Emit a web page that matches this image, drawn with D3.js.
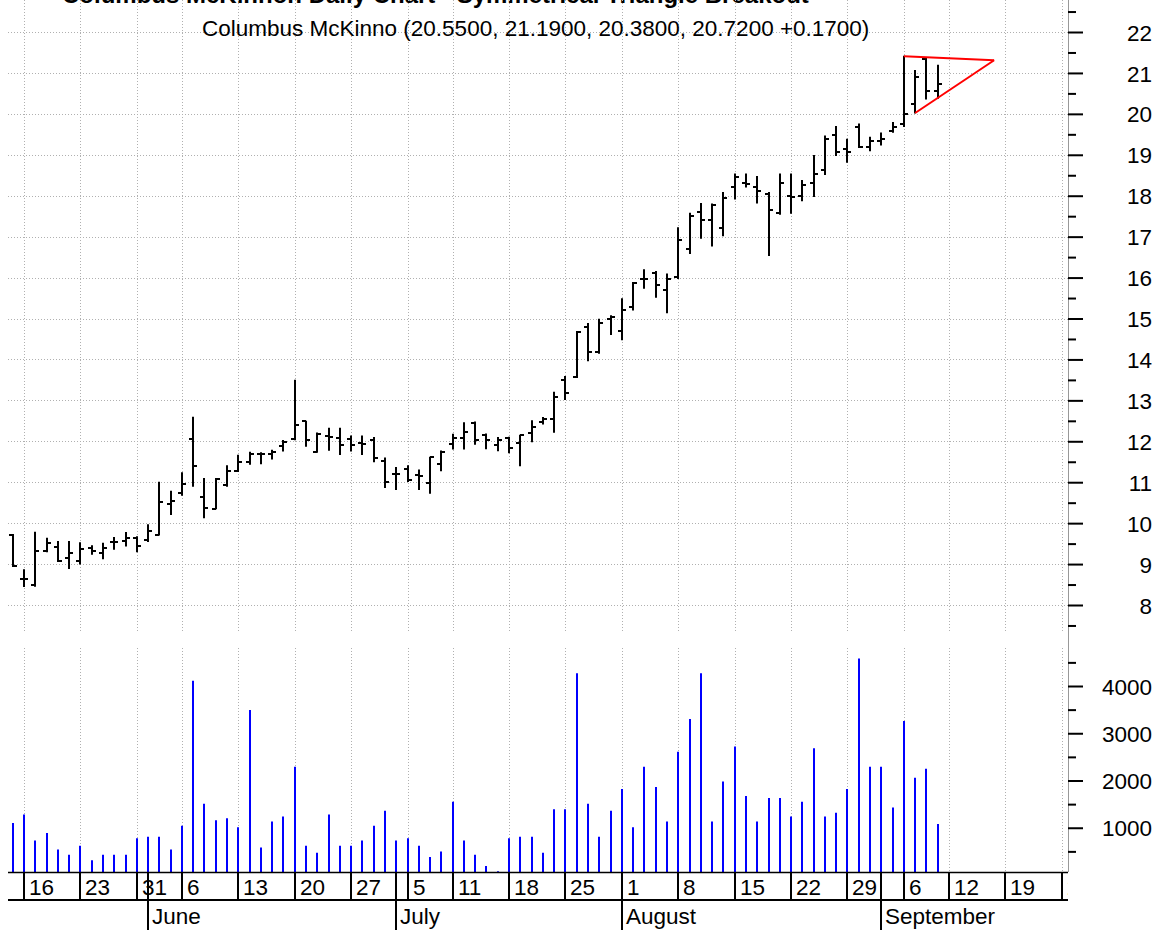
<!DOCTYPE html>
<html>
<head>
<meta charset="utf-8">
<script src="https://cdn.jsdelivr.net/npm/d3@7"></script>
<style>
  body { margin: 0; background: #fff; }
  svg { display: block; font-family: "Liberation Sans", Arial, sans-serif; }
</style>
</head>
<body>
<svg id="chart" width="1166" height="930"></svg>
<script>
// calendar: trading days (weekends and market holidays skipped)
const firstDay = '2005-05-13';
const lastDay = '2005-09-30';
const holidays = ['2005-05-30', '2005-07-04', '2005-09-05'];

const quoteName = 'Columbus McKinno';
const headline = 'Columbus McKinnon Daily Chart - Symmetrical Triangle Breakout';

// one value per trading day, starting May 13 (rows = weeks)
const opens = [9.70,
  8.63, 8.48, 9.32, 9.41, 9.14,
  9.08, 9.39, 9.26, 9.53, 9.57,
  9.63, 9.58, 9.71, 10.47,
  10.73, 12.05, 10.65, 10.35, 10.93,
  11.28, 11.49, 11.68, 11.70, 11.89,
  12.06, 12.49, 11.75, 12.14, 12.09,
  12.05, 11.96, 12.03, 11.52, 11.21,
  11.33, 11.18, 10.98, 11.45,
  11.93, 12.07, 12.44, 12.15, 11.92,
  12.09, 11.95, 12.20, 12.46, 12.54,
  13.49, 13.56, 14.80, 14.17, 14.98,
  14.70, 15.29, 15.96, 16.10, 15.70,
  16.02, 16.69, 17.59, 17.41, 17.21,
  18.21, 18.30, 18.21, 18.03, 17.57,
  18.00, 18.00, 18.30, 18.63, 19.48,
  19.14, 19.69, 19.18, 19.33, 19.57,
  19.75, 20.24, 21.33, 20.55];

const highs = [9.72,
  8.86, 9.78, 9.63, 9.55, 9.55,
  9.52, 9.45, 9.51, 9.65, 9.77,
  9.67, 9.96, 11.00, 10.78,
  11.23, 12.59, 11.09, 11.09, 11.40,
  11.66, 11.73, 11.72, 11.78, 12.02,
  13.49, 12.49, 12.20, 12.32, 12.32,
  12.13, 12.13, 12.09, 11.59, 11.36,
  11.40, 11.30, 11.61, 11.76,
  12.17, 12.45, 12.47, 12.18, 12.09,
  12.10, 12.15, 12.50, 12.58, 13.20,
  13.58, 14.68, 14.88, 14.98, 15.07,
  15.48, 15.88, 16.19, 16.15, 16.09,
  17.22, 17.57, 17.81, 17.80, 18.08,
  18.53, 18.53, 18.47, 18.08, 18.53,
  18.53, 18.37, 18.98, 19.46, 19.69,
  19.38, 19.75, 19.43, 19.53, 19.79,
  21.41, 21.06, 21.38, 21.19];

const lows = [8.94,
  8.45, 8.46, 9.30, 9.06, 8.89,
  9.00, 9.24, 9.13, 9.36, 9.44,
  9.30, 9.55, 9.71, 10.21,
  10.68, 10.90, 10.13, 10.35, 10.90,
  11.26, 11.44, 11.45, 11.57, 11.76,
  12.04, 11.88, 11.73, 11.78, 11.68,
  11.76, 11.68, 11.50, 10.87, 10.82,
  11.02, 10.82, 10.73, 11.28,
  11.81, 11.81, 11.93, 11.82, 11.77,
  11.72, 11.40, 11.99, 12.42, 12.22,
  13.02, 13.56, 13.97, 14.15, 14.61,
  14.48, 15.21, 15.74, 15.52, 15.14,
  15.98, 16.59, 16.96, 16.77, 17.02,
  17.92, 18.21, 17.82, 16.54, 17.55,
  17.57, 17.88, 17.98, 18.52, 18.98,
  18.82, 19.18, 19.10, 19.24, 19.55,
  19.69, 20.02, 20.36, 20.38];

const closes = [8.96,
  8.63, 9.32, 9.52, 9.08, 9.28,
  9.37, 9.32, 9.40, 9.55, 9.63,
  9.45, 9.82, 10.51, 10.54,
  10.96, 11.40, 10.37, 11.07, 11.28,
  11.50, 11.70, 11.68, 11.73, 11.98,
  12.40, 12.03, 12.18, 12.11, 11.92,
  11.90, 11.94, 11.60, 11.00, 11.20,
  11.05, 11.14, 11.61, 11.73,
  12.07, 12.22, 12.02, 12.03, 12.04,
  11.83, 12.15, 12.36, 12.54, 13.08,
  13.19, 14.66, 14.17, 14.88, 15.03,
  15.21, 15.86, 15.97, 15.83, 15.97,
  16.92, 17.51, 17.41, 17.77, 17.95,
  18.45, 18.29, 18.11, 17.66, 18.30,
  17.98, 18.25, 18.53, 19.38, 19.08,
  19.07, 19.20, 19.33, 19.38, 19.67,
  20.00, 20.91, 20.55, 20.72];

const volumes = [1100,
  1280, 730, 890, 540, 430,
  620, 310, 430, 430, 430,
  780, 810, 810, 540,
  1040, 4110, 1510, 1160, 1200,
  1010, 3490, 580, 1130, 1240,
  2290, 620, 470, 1280, 620,
  620, 730, 1040, 1360, 730,
  780, 620, 380, 500,
  1550, 730, 430, 190, 80,
  780, 810, 810, 470, 1390,
  1390, 4270, 1510, 810, 1360,
  1820, 1010, 2290, 1860, 1130,
  2610, 3300, 4270, 1130, 1980,
  2720, 1670, 1130, 1630, 1630,
  1240, 1550, 2680, 1240, 1320,
  1820, 4580, 2290, 2290, 1430,
  3260, 2060, 2250, 1080];

const priceTicks = [8, 9, 10, 11, 12, 13, 14, 15, 16, 17, 18, 19, 20, 21, 22];
const volumeTicks = [1000, 2000, 3000, 4000];

// drawn triangle: [date, price]
const triangleUpper = [['2005-09-06', 21.41], ['2005-09-16', 21.31]];
const triangleLower = [['2005-09-07', 20.02], ['2005-09-16', 21.31]];

const svg = d3.select('#chart');
const plotLeft = 8;
const plotRight = 1068;
const priceTop = 0;
const priceBottom = 632;
const volTop = 648;
const volBottom = 872;
const dayRowBottom = 900;
const monthRowBottom = 930;
const fontSize = 22.5;

const parseDay = d3.timeParse('%Y-%m-%d');
const fmtDay = d3.timeFormat('%Y-%m-%d');
const days = d3.timeDay
  .range(parseDay(firstDay), d3.timeDay.offset(parseDay(lastDay), 1))
  .filter((d) => d.getDay() % 6 !== 0 && !holidays.includes(fmtDay(d)));
const dayIndex = new Map(days.map((d, i) => [fmtDay(d), i]));

const bars = opens.map((o, i) => ({
  i, open: o, high: highs[i], low: lows[i], close: closes[i], volume: volumes[i]
}));

const weekStarts = days
  .map((d, i) => ({ d, i }))
  .filter(({ d, i }) => i > 0 && d.getDay() < days[i - 1].getDay());
const monthStarts = days
  .map((d, i) => ({ d, i }))
  .filter(({ d, i }) => i > 0 && d.getMonth() !== days[i - 1].getMonth());

const x = d3.scaleLinear().domain([1, 93]).range([24, 1061.8]);
const y = d3.scaleLinear().domain([8, 22]).range([605, 32]);
const yVol = d3.scaleLinear().domain([0, 4000]).range([875, 686]);
const px = (i) => Math.round(x(i));

svg.append('rect').attr('width', 1166).attr('height', 930).attr('fill', '#fff');

svg.append('defs').append('clipPath').attr('id', 'plot-clip')
  .append('rect').attr('x', plotLeft).attr('y', 0)
  .attr('width', plotRight - plotLeft).attr('height', monthRowBottom);

// headline sits mostly above the top edge, as in the source
svg.append('text')
  .attr('x', 62).attr('y', 3)
  .attr('font-size', 24).attr('font-weight', 'bold')
  .text(headline);

// grid
const grid = svg.append('g')
  .attr('stroke', '#b0b0b0').attr('stroke-width', 1).attr('stroke-dasharray', '1,2');

grid.selectAll('line.h').data(priceTicks).join('line')
  .attr('class', 'h')
  .attr('x1', plotLeft).attr('x2', plotRight)
  .attr('y1', (d) => Math.round(y(d)) + 0.5).attr('y2', (d) => Math.round(y(d)) + 0.5);

grid.selectAll('line.vp').data(weekStarts).join('line')
  .attr('class', 'vp')
  .attr('x1', (d) => px(d.i) + 0.5).attr('x2', (d) => px(d.i) + 0.5)
  .attr('y1', priceTop).attr('y2', priceBottom);

grid.selectAll('line.vv').data(weekStarts).join('line')
  .attr('class', 'vv')
  .attr('x1', (d) => px(d.i) + 0.5).attr('x2', (d) => px(d.i) + 0.5)
  .attr('y1', volTop).attr('y2', volBottom);

// quote line
const last = bars[bars.length - 1];
const change = last.close - bars[bars.length - 2].close;
svg.append('text')
  .attr('x', 202).attr('y', 36)
  .attr('font-size', fontSize)
  .text(`${quoteName} (${last.open.toFixed(4)}, ${last.high.toFixed(4)}, ${last.low.toFixed(4)}, ${last.close.toFixed(4)} ${change >= 0 ? '+' : ''}${change.toFixed(4)})`);

// OHLC bars
const ohlc = svg.append('g').attr('stroke', '#000').attr('stroke-width', 2);
bars.forEach((b) => {
  const cx = px(b.i);
  ohlc.append('line')
    .attr('x1', cx).attr('x2', cx)
    .attr('y1', y(b.high) - 0.5).attr('y2', y(b.low) + 0.5);
  ohlc.append('line')
    .attr('x1', cx - 4).attr('x2', cx)
    .attr('y1', Math.round(y(b.open))).attr('y2', Math.round(y(b.open)));
  ohlc.append('line')
    .attr('x1', cx).attr('x2', cx + 4)
    .attr('y1', Math.round(y(b.close))).attr('y2', Math.round(y(b.close)));
});

// volume bars
svg.append('g').attr('stroke', '#0000ff').attr('stroke-width', 2)
  .selectAll('line').data(bars).join('line')
  .attr('x1', (d) => px(d.i)).attr('x2', (d) => px(d.i))
  .attr('y1', Math.min(yVol(0), volBottom)).attr('y2', (d) => yVol(d.volume));

// triangle
const triLine = d3.line()
  .x((d) => x(dayIndex.get(d[0])))
  .y((d) => y(d[1]));
[triangleUpper, triangleLower].forEach((seg) => {
  svg.append('path')
    .attr('d', triLine(seg))
    .attr('fill', 'none').attr('stroke', '#ff0000').attr('stroke-width', 2);
});

// right axes
svg.append('line')
  .attr('x1', plotRight + 0.5).attr('x2', plotRight + 0.5)
  .attr('y1', 0).attr('y2', volBottom)
  .attr('stroke', '#999').attr('stroke-width', 1);

function drawAxis(scale, majors, minors) {
  const gMinor = svg.append('g')
    .attr('transform', `translate(${plotRight},0)`)
    .call(d3.axisRight(scale).tickValues(minors).tickSize(8).tickSizeOuter(0).tickFormat(''));
  const gMajor = svg.append('g')
    .attr('transform', `translate(${plotRight},0)`)
    .call(d3.axisRight(scale).tickValues(majors).tickSize(15).tickSizeOuter(0).tickFormat(d3.format('d')));
  [gMinor, gMajor].forEach((g) => {
    g.select('.domain').remove();
    g.selectAll('.tick line').attr('stroke', '#000').attr('stroke-width', 2);
  });
  gMajor.selectAll('.tick text')
    .attr('x', 84).attr('dy', '0.36em')
    .attr('text-anchor', 'end')
    .attr('font-size', fontSize)
    .attr('font-family', '"Liberation Sans", Arial, sans-serif')
    .attr('fill', '#000');
}

drawAxis(y, priceTicks, d3.range(7.5, 23, 1));
drawAxis(yVol, volumeTicks, [500, 1500, 2500, 3500, 4500]);

// date axis
const xa = svg.append('g').attr('clip-path', 'url(#plot-clip)');
xa.append('line')
  .attr('x1', plotLeft).attr('x2', plotRight)
  .attr('y1', volBottom + 0.5).attr('y2', volBottom + 0.5)
  .attr('stroke', '#000').attr('stroke-width', 1.5);
xa.append('line')
  .attr('x1', plotLeft).attr('x2', plotRight)
  .attr('y1', dayRowBottom).attr('y2', dayRowBottom)
  .attr('stroke', '#000').attr('stroke-width', 2);

xa.selectAll('line.week').data(weekStarts).join('line')
  .attr('class', 'week')
  .attr('x1', (d) => px(d.i)).attr('x2', (d) => px(d.i))
  .attr('y1', volBottom).attr('y2', dayRowBottom)
  .attr('stroke', '#000').attr('stroke-width', 2);

xa.selectAll('text.week').data(weekStarts).join('text')
  .attr('class', 'week')
  .attr('x', (d) => px(d.i) + 5).attr('y', 895)
  .attr('font-size', fontSize)
  .text((d) => d.d.getDate());

xa.selectAll('line.month').data(monthStarts).join('line')
  .attr('class', 'month')
  .attr('x1', (d) => px(d.i)).attr('x2', (d) => px(d.i))
  .attr('y1', volBottom).attr('y2', monthRowBottom)
  .attr('stroke', '#000').attr('stroke-width', 2);

xa.selectAll('text.month').data(monthStarts).join('text')
  .attr('class', 'month')
  .attr('x', (d) => px(d.i) + 4).attr('y', 924)
  .attr('font-size', fontSize)
  .text((d) => d3.timeFormat('%B')(d.d));
</script>
</body>
</html>
